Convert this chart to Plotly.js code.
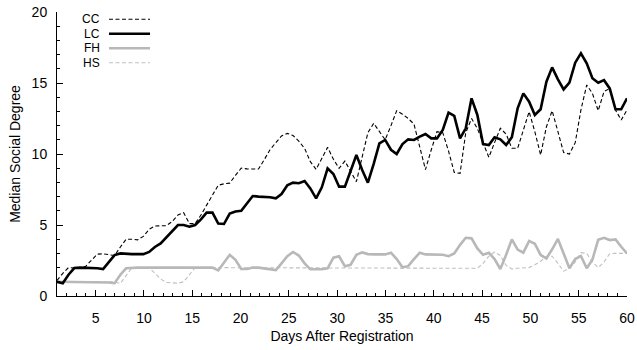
<!DOCTYPE html>
<html>
<head>
<meta charset="utf-8">
<script src="https://cdn.plot.ly/plotly-3.0.1.min.js"></script>
<style>html,body{margin:0;padding:0;background:#fff;}#chart{width:637px;height:350px;}</style>
</head>
<body>
<div id="chart"></div>
<script>
// Sample positions (days after registration)
const days = [1.00,1.60,2.19,2.79,3.38,3.98,4.58,5.17,5.77,6.36,
  6.96,7.56,8.15,8.75,9.34,9.94,10.54,11.13,11.73,12.32,
  12.92,13.52,14.11,14.71,15.30,15.90,16.49,17.09,17.69,18.28,
  18.88,19.47,20.07,20.67,21.26,21.86,22.45,23.05,23.65,24.24,
  24.84,25.43,26.03,26.63,27.22,27.82,28.41,29.01,29.61,30.20,
  30.80,31.39,31.99,32.59,33.18,33.78,34.37,34.97,35.57,36.16,
  36.76,37.35,37.95,38.55,39.14,39.74,40.33,40.93,41.53,42.12,
  42.72,43.31,43.91,44.51,45.10,45.70,46.29,46.89,47.49,48.08,
  48.68,49.27,49.87,50.46,51.06,51.66,52.25,52.85,53.44,54.04,
  54.64,55.23,55.83,56.42,57.02,57.62,58.21,58.81,59.40,60.00];

const seriesNames = ["CC", "LC", "FH", "HS"];

const CC = [1.1,1.6,2.0,2.0,1.95,2.1,2.5,2.95,2.97,2.9,
  2.85,3.45,4.0,4.0,3.95,4.2,4.7,4.93,4.93,4.95,
  5.25,5.7,5.87,5.1,5.1,5.7,6.4,7.1,7.8,7.9,
  7.95,8.5,9.0,8.95,8.94,8.94,9.6,10.3,10.8,11.27,
  11.45,11.3,10.9,10.4,9.46,8.92,9.69,10.47,9.63,8.99,
  9.5,8.75,8.05,9.8,11.5,12.16,11.6,11.0,12.0,13.05,
  12.8,12.5,12.11,10.4,8.9,10.3,11.57,11.5,10.2,8.7,
  8.64,11.5,12.5,11.8,10.8,9.77,10.8,11.81,11.4,10.4,
  10.4,11.6,12.98,11.57,9.93,11.92,13.05,11.57,10.1,10.0,
  10.8,13.1,14.86,14.27,13.05,14.39,14.62,13.1,12.39,13.1];

const LC = [1.0,0.9,1.5,1.97,2.0,2.0,2.0,1.95,1.9,2.4,
  2.88,3.0,2.95,2.95,2.95,2.95,3.1,3.45,3.7,4.15,
  4.6,5.0,5.0,4.88,5.0,5.4,5.87,5.87,5.1,5.07,
  5.8,5.95,6.0,6.5,7.04,7.0,7.0,6.95,6.88,7.18,
  7.8,7.98,7.94,8.1,7.58,6.88,7.65,8.99,8.59,7.7,
  7.7,8.8,9.93,8.87,7.98,9.3,10.75,10.99,10.3,10.0,
  10.7,11.03,10.99,11.22,11.41,11.1,11.1,11.69,12.91,12.68,
  11.1,11.81,13.92,12.75,10.7,10.63,11.18,11.03,10.63,11.18,
  13.22,14.27,13.68,12.75,13.15,15.09,16.1,15.26,14.55,15.02,
  16.43,17.09,16.39,15.33,15.02,15.2,14.62,13.15,13.15,13.92];

const FH = [1,1,1,1,1,1,1,1,1,0.95,
  0.9,1.5,1.95,2,2,2,2,2,2,2,
  2,2,2,2,2,2,2,2,1.8,2.35,
  2.9,2.55,1.9,1.9,2.0,2.0,1.95,1.9,1.83,2.3,
  2.8,3.1,2.85,2.3,1.88,1.88,1.88,1.95,2.7,2.8,
  2.1,2.2,2.9,3.07,2.95,2.93,2.93,2.93,3.05,2.6,
  2.02,2.1,2.6,3.05,2.93,2.93,2.93,2.9,2.8,3.0,
  3.6,4.1,4.06,3.35,2.9,3.05,2.6,1.9,2.9,3.99,
  3.27,3.05,3.88,3.68,2.89,2.65,3.29,4.02,3.0,1.95,
  2.6,2.82,1.95,2.56,3.96,4.1,3.94,3.99,3.47,3.0];

const HS = [1,1,1,1,1,1,1,1,1,1,
  1,0.88,1.4,2,2,2,2,1.6,1.2,0.95,
  0.9,0.9,1.0,1.5,2,2,2,2,2,2,
  2,2,2,2,2,2,2,2,2,2,
  2,2,2,2,2,2,2,2,2,2,
  2,2,2,2,2,2,2,2,2,2,
  2,2,2,2,2,2,2,2,2,2,
  2,2,2,1.95,2.3,2.8,3.1,2.85,2.15,1.9,
  1.95,1.95,2.0,2.2,2.45,2.8,2.8,2.3,1.75,1.95,
  2.4,3.05,3.0,2.4,2.0,2.4,2.98,3.0,3.0,3.0];

const xTickVals = [5,10,15,20,25,30,35,40,45,50,55,60];
const yTickVals = [0,5,10,15,20];

const styles = {
  CC: {color: "#000000", width: 1.1, dash: "4px,2.5px"},
  LC: {color: "#000000", width: 2.6, dash: "solid"},
  FH: {color: "#b8b8b8", width: 2.6, dash: "solid"},
  HS: {color: "#c0c0c0", width: 1.1, dash: "4px,2.5px"}
};
const seriesData = {CC: CC, LC: LC, FH: FH, HS: HS};

const drawOrder = ["HS", "FH", "CC", "LC"];
const traces = drawOrder.map(n => ({
  x: days, y: seriesData[n], name: n, type: "scatter", mode: "lines",
  line: styles[n], showlegend: false, hoverinfo: "skip"
}));

// Custom legend: label text on the left, line sample on the right
const legY = [0.9743, 0.9236, 0.8722, 0.8215];
const annotations = seriesNames.map((n, i) => ({
  xref: "paper", yref: "paper", x: 0.0772, y: legY[i],
  xanchor: "right", yanchor: "middle", showarrow: false, text: n,
  borderpad: 0,
  font: {family: "Liberation Sans, Arial, sans-serif", size: 12, color: "#000"}
}));
const shapes = seriesNames.map((n, i) => ({
  type: "line", xref: "paper", yref: "paper",
  x0: 0.0912, x1: 0.1632, y0: legY[i], y1: legY[i],
  line: styles[n]
}));

const font = {family: "Liberation Sans, Arial, sans-serif", size: 14, color: "#000"};

const layout = {
  width: 637, height: 350,
  margin: {l: 57, r: 10, t: 12, b: 54},
  paper_bgcolor: "#fff", plot_bgcolor: "#fff",
  font: font,
  showlegend: false,
  xaxis: {
    range: [1, 60], tickvals: xTickVals, ticktext: xTickVals.map(String),
    ticks: "inside", ticklen: 6, tickwidth: 1, tickcolor: "#000",
    minor: {dtick: 1, tick0: 0, ticks: "inside", ticklen: 3, tickwidth: 1, tickcolor: "#000"},
    showline: true, linecolor: "#000", linewidth: 1,
    showgrid: false, zeroline: false,
    ticklabelstandoff: 9,
    tickfont: font,
    title: {text: "Days After Registration", font: font, standoff: 6}
  },
  yaxis: {
    range: [0, 20], tickvals: yTickVals, ticktext: yTickVals.map(String),
    ticks: "inside", ticklen: 6, tickwidth: 1, tickcolor: "#000",
    minor: {dtick: 1, tick0: 0, ticks: "inside", ticklen: 3, tickwidth: 1, tickcolor: "#000"},
    showline: true, linecolor: "#000", linewidth: 1,
    showgrid: false, zeroline: false,
    ticklabelstandoff: 6,
    tickfont: font,
    title: {text: "Median Social Degree", font: font, standoff: 7}
  },
  annotations: annotations,
  shapes: shapes
};

Plotly.newPlot("chart", traces, layout, {staticPlot: true, displayModeBar: false});
</script>
</body>
</html>
